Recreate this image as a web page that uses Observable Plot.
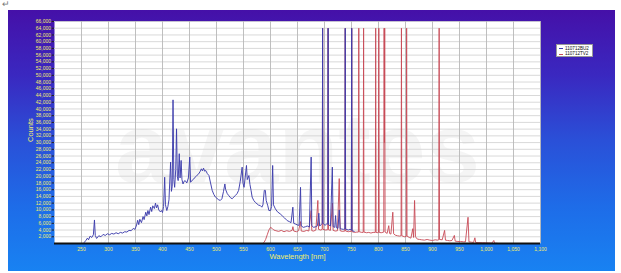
<!DOCTYPE html>
<html>
<head>
<meta charset="utf-8">
<script src="https://cdn.jsdelivr.net/npm/d3@7"></script>
<script src="https://cdn.jsdelivr.net/npm/@observablehq/plot@0.6"></script>
<style>
  html, body { margin: 0; padding: 0; background: #fff; }
  body { width: 621px; height: 273px; position: relative; overflow: hidden; font-family: "Liberation Sans", Arial, sans-serif; }
  #mark { position: absolute; left: 2px; top: -1px; font-size: 9px; color: #777; }
  #panel { position: absolute; left: 8px; top: 10px; width: 607px; height: 261px;
    background: linear-gradient(to bottom, #4510a8 0%, #3a28c0 25%, #2a50d8 50%, #1e6ce8 75%, #1882f2 100%); }
  #panel svg { position: absolute; left: 0; top: 0; }
  #legend { position: absolute; left: 548px; top: 34px; width: 37px; height: 13px; background: #fff;
    border: 0.5px solid #999; font-size: 4.6px; color: #111; line-height: 5.4px; padding-top: 1px; box-sizing: border-box; }
  #legend div { white-space: nowrap; padding-left: 2px; }
  #legend span.sw { display: inline-block; width: 4px; height: 1px; vertical-align: middle; margin-right: 2px; }
  #ylab { position: absolute; left: 18px; top: 132px; transform: rotate(-90deg); transform-origin: left top;
    font-size: 7.5px; color: #f0f070; white-space: nowrap; }
</style>
</head>
<body>
<div id="mark">↵</div>
<div id="panel"></div>
<script>
// ---- data ----
const seriesNames = ["110712BU2", "110712TV2"];
const seriesColors = ["#3d3dac", "#c84a56"];

const xTicks = [250, 300, 350, 400, 450, 500, 550, 600, 650, 700, 750, 800, 850, 900, 950, 1000, 1050, 1100];
const yTicks = [2000, 4000, 6000, 8000, 10000, 12000, 14000, 16000, 18000, 20000, 22000, 24000, 26000, 28000, 30000, 32000,
  34000, 36000, 38000, 40000, 42000, 44000, 46000, 48000, 50000, 52000, 54000, 56000, 58000, 60000, 62000, 64000, 66000];

// 110712BU2 : [wavelength nm, counts]
const bu2 = [
  [255,300],[258,900],[261,1600],[263,1100],[266,2200],[269,1800],[272,2600],[274,7000],[275.5,2400],[278,1500],
  [282,2300],[286,2000],[290,2700],[294,2400],[298,2900],[302,2600],[306,3000],[310,2800],[314,3200],[318,2900],
  [322,3300],[326,3100],[330,3500],[334,3400],[338,3900],[342,3800],[346,4500],[349,4200],[352,5500],[354,6900],
  [356,5600],[358,7200],[361,6200],[364,8000],[366,7100],[369,9300],[371,8200],[373,9800],[375,8600],[378,10800],
  [380,9500],[382,11200],[385,10400],[387,12000],[389,10600],[391,11500],[393,10000],[396,9400],[398,9800],[400,9200],
  [402,11000],[404,19700],[405.5,11500],[408,9800],[410,11000],[412,13000],[415,24200],[416.5,15500],[418,17000],
  [419.5,42700],[421,19000],[422.5,16700],[424.5,22000],[426,34100],[427.5,20000],[429,18700],[431,26700],[432.5,19500],
  [434.5,24700],[436,19000],[438,17700],[440,18500],[442,18700],[445,18000],[448,19500],[450.5,25700],[452,18200],
  [455,18800],[458,19200],[461,19800],[464,20300],[467,20700],[470,21500],[472,22200],[474,21600],[476,22400],
  [478,21500],[480,21700],[483,20800],[486,20200],[489,18000],[492,15800],[495,14600],[498,13800],[501,13400],
  [504,13000],[507,12800],[510,13300],[513,15500],[515.5,17700],[517,16000],[520,14800],[523,14200],[526,13600],
  [529,13300],[532,13800],[535,14300],[538,14800],[541,15800],[544,18500],[547.5,22700],[549,18000],[551,16700],
  [553,19500],[555.5,23200],[557,19000],[560,20200],[562,17500],[564,15800],[566,13800],[569,12800],[572,12200],
  [575,11800],[578,11400],[581,11300],[584,10800],[586,11500],[588.5,15800],[590.5,15800],[592,12800],[595,11200],
  [597,9800],[600,9800],[602,11000],[604,23200],[605.5,11500],[609,10300],[613,9400],[618,8800],[622,8200],
  [626,7600],[631,6800],[635,6500],[638,6200],[641.4,10800],[643,6000],[646,5800],[650,5500],[653,5400],
  [655.6,16700],[657,5200],[661,4800],[665,5000],[668,5200],[672,4900],[675.3,25700],[676.5,5300],[680,4800],
  [684,5000],[687,5300],[689.5,9000],[691,5200],[694,5600],[695.8,6000],[696.5,64000],[697.2,6000],[701,5400],
  [704,5800],[706,5800],[706.7,64000],[707.4,5600],[711,5200],[714.5,22700],[716,5000],[719,4800],[720.5,8300],
  [722,4700],[725,4500],[727.3,10000],[729,4400],[732,4300],[735,4200],[737.7,4300],[738.4,64000],[739.1,4300],
  [744,4000],[747,4200],[749.7,4000],[750.4,64000],[751.1,3800],[755,3600]
];

// 110712TV2 : [wavelength nm, counts]
const tv2 = [
  [586,0],[588,300],[591,1200],[594,2600],[597,4000],[600,4800],[603,4500],[606,4000],[610,3800],[615,3600],
  [620,3900],[625,3500],[630,3800],[635,3600],[640,3900],[641.5,5000],[643,3700],[648,3500],[652,3800],[655.6,6500],
  [657,3700],[662,3600],[667,3900],[671,3700],[675.3,9800],[676.5,3800],[680,3700],[684,4000],[687.7,12800],
  [689,4200],[693,4000],[695.8,4200],[696.5,64000],[697.2,4200],[702,4000],[706,4100],[706.7,64000],[707.4,4100],
  [711,3900],[714.7,12000],[716,3900],[720,3700],[724,3800],[727.3,19300],[729,3800],[733,3600],[737.7,3700],
  [738.4,64000],[739.1,3700],[744,3500],[747,3600],[749.7,3600],[750.4,64000],[751.1,3500],[756,3300],[760,3400],
  [762.8,3400],[763.5,64000],[764.2,3500],[769,3300],[771.7,3300],[772.4,64000],[773.1,3400],[778,3200],[782,3300],
  [786,3100],[790,3300],[794.1,3300],[794.8,64000],[795.5,3300],[799,3200],[799.9,3300],[800.6,64000],[801.3,3300],
  [805,3200],[809.7,3400],[810.4,64000],[811,30000],[811.5,64000],[812.2,3400],[816,3000],[819,5300],[820.5,3000],
  [823,2800],[826.5,9300],[828,2900],[831,2500],[835,2300],[839,2200],[841.8,2300],[842.5,64000],[843.2,2300],
  [848,2000],[851.4,2100],[852.1,64000],[852.8,2200],[857,1800],[860,1600],[863.5,4400],[865,1800],[866.8,12800],
  [868.5,2000],[872,1300],[876,1200],[880,1100],[885,1000],[890,1200],[895,1000],[900,900],[905,1100],[909,1000],
  [911.6,1100],[912.3,64000],[913,1200],[918,1100],[922.4,3900],[924,1000],[928,900],[932,800],[936,900],
  [940.5,2400],[942,700],[947,600],[952,600],[957,500],[961,500],[965.8,7800],[967.5,500],[972,400],[976,300],
  [978.5,1700],[980,300],[986,250],[992,200],[998,200],[1004,150],[1010,100],[1013.5,900],[1015,100],[1020,50]
];

// ---- chart ----
const textColor = "#f2ee6a";
const fmt = d3.format(",");

const chart = Plot.plot({
  width: 607,
  height: 261,
  marginLeft: 46,
  marginRight: 75,
  marginTop: 11,
  marginBottom: 28,
  style: { background: "transparent", fontFamily: "'Liberation Sans', Arial, sans-serif", fontSize: "5px", overflow: "visible" },
  x: { domain: [200, 1100] },
  y: { domain: [0, 66000] },
  marks: [
    Plot.frame({ fill: "white", stroke: null }),
    Plot.text(["avantes"], { frameAnchor: "middle", dy: 18, fontSize: 98, fontWeight: "bold", fill: "#000", fillOpacity: 0.04 }),
    Plot.gridY(yTicks, { stroke: "#cfcfcf", strokeOpacity: 1, strokeWidth: 0.8 }),
    Plot.gridX(xTicks, { stroke: "#b8b8b8", strokeOpacity: 1, strokeWidth: 0.9 }),
    Plot.line(tv2, { x: d => d[0], y: d => d[1], stroke: seriesColors[1], strokeWidth: 1, strokeOpacity: 0.9 }),
    Plot.line(bu2, { x: d => d[0], y: d => d[1], stroke: seriesColors[0], strokeWidth: 1, strokeOpacity: 0.95 }),
    Plot.ruleY([0], { stroke: "#111", strokeWidth: 2 }),
    Plot.axisX({ ticks: xTicks, tickFormat: fmt, tickSize: 0, tickPadding: 4, fill: textColor, label: null }),
    Plot.axisY({ ticks: yTicks, tickFormat: fmt, tickSize: 2.5, tickPadding: 1, stroke: "#222", fill: textColor, label: null }),
    Plot.text(["Wavelength [nm]"], { frameAnchor: "bottom", dy: 15, fontSize: 7.5, fill: textColor })
  ]
});
document.getElementById("panel").appendChild(chart);

// legend
const legend = document.createElement("div");
legend.id = "legend";
seriesNames.forEach((n, i) => {
  const row = document.createElement("div");
  const sw = document.createElement("span");
  sw.className = "sw";
  sw.style.background = seriesColors[i];
  row.appendChild(sw);
  row.appendChild(document.createTextNode(n));
  legend.appendChild(row);
});
document.getElementById("panel").appendChild(legend);

const ylab = document.createElement("div");
ylab.id = "ylab";
ylab.textContent = "Counts";
document.getElementById("panel").appendChild(ylab);
</script>
</body>
</html>
